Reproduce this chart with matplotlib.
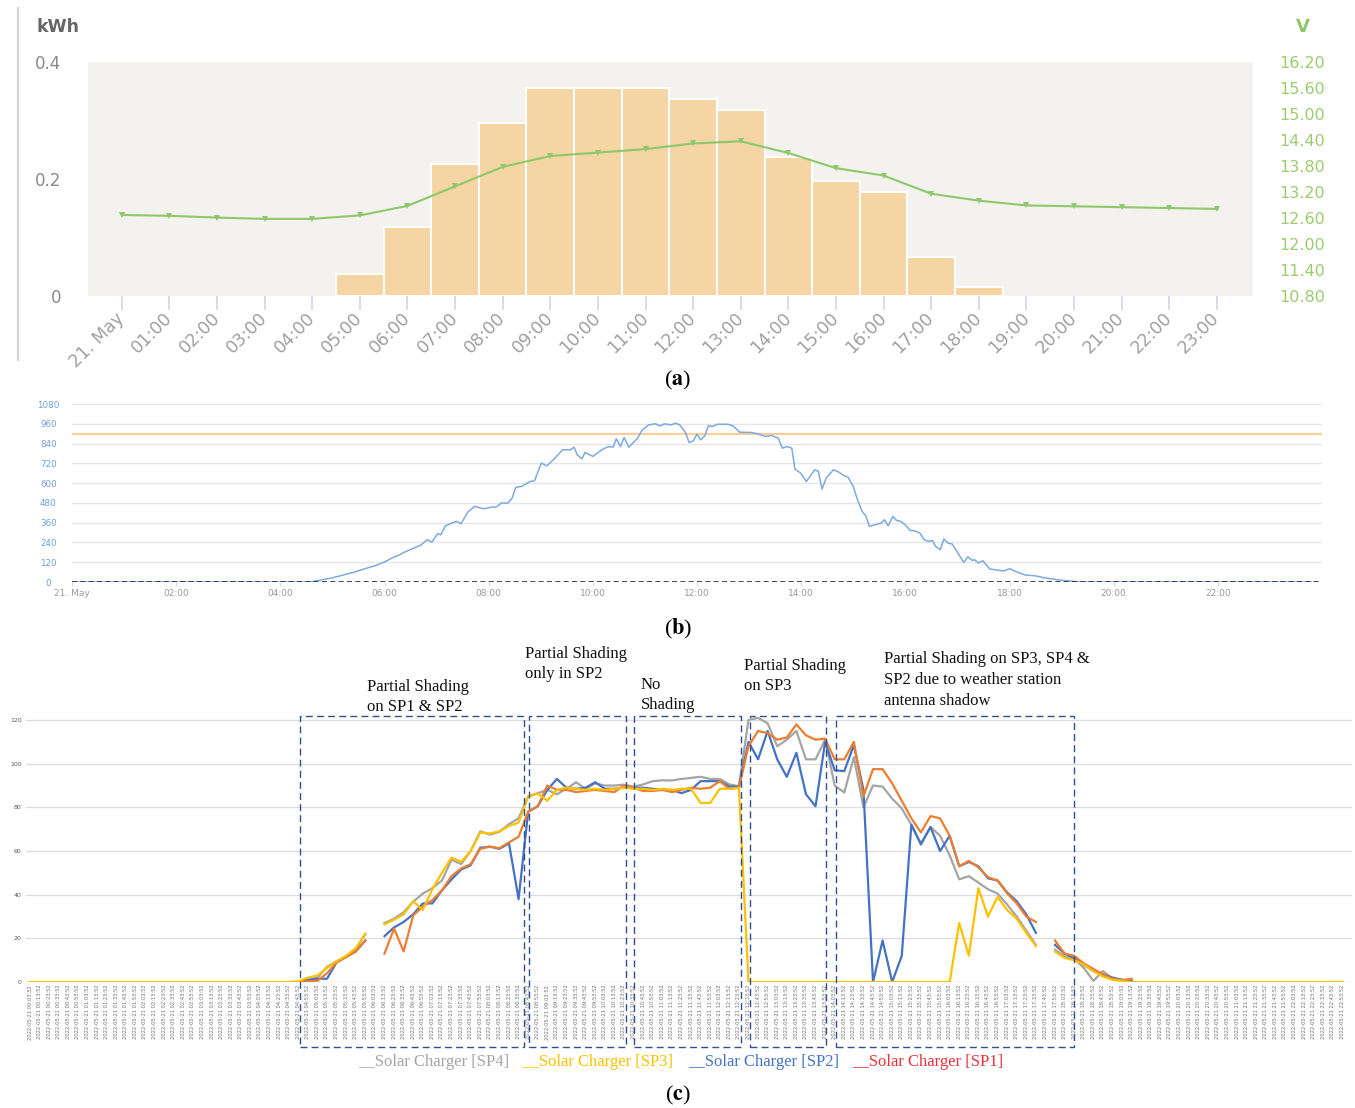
import numpy as np
import matplotlib
matplotlib.use("Agg")
import matplotlib.pyplot as plt
from matplotlib.lines import Line2D
from matplotlib.patches import Rectangle

plt.rcParams["mathtext.fontset"] = "stix"

W, H = 1355, 1108
nan = np.nan

# ---------------- (a) hourly energy + battery voltage ----------------
hour_labels = ["21. May", "01:00", "02:00", "03:00", "04:00", "05:00", "06:00",
               "07:00", "08:00", "09:00", "10:00", "11:00", "12:00", "13:00",
               "14:00", "15:00", "16:00", "17:00", "18:00", "19:00", "20:00",
               "21:00", "22:00", "23:00"]
energy_kwh = [0, 0, 0, 0, 0, 0.038, 0.118, 0.226, 0.296, 0.356, 0.356, 0.356,
              0.337, 0.318, 0.238, 0.197, 0.178, 0.067, 0.015, 0, 0, 0, 0, 0]
battery_v = [12.67, 12.65, 12.61, 12.58, 12.58, 12.66, 12.88, 13.33, 13.78,
             14.03, 14.11, 14.19, 14.32, 14.37, 14.10, 13.75, 13.58, 13.16,
             13.00, 12.89, 12.87, 12.85, 12.83, 12.81]
kwh_ticks = [0, 0.2, 0.4]
kwh_tick_labels = ["0", "0.2", "0.4"]
volt_ticks = [10.8, 11.4, 12.0, 12.6, 13.2, 13.8, 14.4, 15.0, 15.6, 16.2]

# ---------------- (b) irradiance ----------------
irr_hours = [0.0, 4.55, 4.64, 4.98, 5.41, 5.67, 5.84, 6.01, 6.14, 6.27, 6.39,
             6.52, 6.70, 6.82, 6.91, 7.02, 7.08, 7.17, 7.38, 7.47, 7.60, 7.73,
             7.90, 8.07, 8.15, 8.24, 8.37, 8.45, 8.52, 8.63, 8.80, 8.88, 9.01,
             9.12, 9.27, 9.42, 9.57, 9.64, 9.70, 9.79, 9.85, 10.0, 10.17, 10.30,
             10.39, 10.45, 10.53, 10.60, 10.69, 10.86, 10.94, 11.07, 11.2, 11.29,
             11.37, 11.5, 11.59, 11.67, 11.78, 11.85, 11.93, 12.0, 12.07, 12.15,
             12.22, 12.29, 12.39, 12.6, 12.69, 12.82, 13.04, 13.17, 13.32, 13.43,
             13.56, 13.64, 13.73, 13.82, 13.88, 13.99, 14.1, 14.19, 14.26, 14.33,
             14.4, 14.48, 14.62, 14.72, 14.83, 14.9, 15.0, 15.08, 15.17, 15.24,
             15.31, 15.41, 15.54, 15.6, 15.67, 15.76, 15.83, 15.91, 16.0, 16.09,
             16.17, 16.28, 16.36, 16.45, 16.52, 16.58, 16.67, 16.74, 16.82, 16.9,
             17.01, 17.12, 17.2, 17.29, 17.33, 17.4, 17.49, 17.62, 17.79, 17.89,
             18.0, 18.14, 18.31, 18.48, 18.7, 18.96, 19.22, 19.39, 23.8]
irr_values = [0, 0, 4, 24, 59, 85, 101, 123, 145, 162, 182,
              200, 224, 257, 242, 293, 287, 341, 368, 354, 424, 459,
              444, 455, 455, 479, 479, 509, 574, 580, 610, 614, 721,
              705, 751, 802, 802, 818, 772, 747, 786, 762, 802, 822,
              818, 869, 822, 877, 818, 873, 919, 953, 960, 947,
              960, 953, 964, 953, 907, 846, 856, 897, 862, 887,
              949, 943, 957, 957, 947, 909, 907, 899, 883, 889,
              873, 812, 822, 812, 685, 661, 610, 650, 681, 671,
              564, 630, 681, 667, 644, 636, 580, 499, 428, 402,
              337, 347, 358, 378, 341, 398, 374, 368, 347, 313,
              311, 297, 257, 246, 252, 216, 196, 261, 236, 230,
              176, 119, 152, 131, 135, 115, 129, 79, 71, 67,
              81, 61, 42, 38, 24, 12, 4, 0, 0]
irr_limit = 900
irr_ticks = [0, 120, 240, 360, 480, 600, 720, 840, 960, 1080]
irr_xticks = [0, 2, 4, 6, 8, 10, 12, 14, 16, 18, 20, 22]
irr_xlabels = ["21. May", "02:00", "04:00", "06:00", "08:00", "10:00", "12:00",
               "14:00", "16:00", "18:00", "20:00", "22:00"]

# ---------------- (c) solar chargers, 10-min samples ----------------
sp3 = [0, 0, 0, 0, 0, 0, 0, 0, 0, 0, 0, 0, 0, 0,
       0, 0, 0, 0, 0, 0, 0, 0, 0, 0, 0, 0, 0, 0,
       0.3, 2, 3, 6.5, 9.5, 12, 15.5, 22, nan, 26.5, 28.5, 31, 37, 33,
       42.5, 50, 57, 55, 60, 68.5, 68, 69, 71.5, 73, 85, 86.3, 83, 88,
       89, 88.5, 88, 88.5, 88, 88.5, 89, 88.5, 88.5, 88, 88.5, 88, 88.5, 88.5,
       82, 82, 88.5, 88.5, 89, 0, 0, 0, 0, 0, 0, 0, 0, 0,
       0, 0, 0, 0, 0, 0, 0, 0, 0, 0, 0, 0, 0, 27,
       12, 43, 30, 39, 33, 29, 22.5, 16.5, nan, 14, 11, 10, 8, 5,
       2.5, 1, 0.5, 0, 0, 0, 0, 0, 0, 0, 0, 0, 0, 0,
       0, 0, 0, 0, 0, 0, 0, 0, 0, 0, 0, 0]
sp1 = [nan, nan, nan, nan, nan, nan, nan, nan, nan, nan, nan, nan, nan, nan,
       nan, nan, nan, nan, nan, nan, nan, nan, nan, nan, nan, nan, nan, nan,
       0, 0.3, 0.5, 4, 9, 11.5, 14, 19, nan, 13, 24.5, 14, 30.5, 34.5,
       37.5, 42, 48.5, 52, 54, 61, 62, 61.3, 64, 66.5, 78, 80.5, 90, 88,
       88, 87, 87.5, 88, 87.5, 87, 90, 89, 87.5, 87.5, 88, 87, 88, 89,
       88.5, 89, 92, 88.5, 89, 108, 115, 114, 111, 112, 118, 113, 111, 111.5,
       102, 102, 110, 85, 97.5, 97.5, 91, 83, 75, 68.5, 76, 75, 67, 53,
       55.5, 52.5, 48, 46.5, 40.6, 36, 30, 27.5, nan, 19, 13, 12, 8.5, 6,
       3.5, 1.5, 0.8, 1.5, nan, nan, nan, nan, nan, nan, nan, nan, nan, nan,
       nan, nan, nan, nan, nan, nan, nan, nan, nan, nan, nan, nan]
sp2 = [nan, nan, nan, nan, nan, nan, nan, nan, nan, nan, nan, nan, nan, nan,
       nan, nan, nan, nan, nan, nan, nan, nan, nan, nan, nan, nan, nan, nan,
       0, 0.8, 1.5, 1.5, 9, 11.5, 14, 19, nan, 21, 25, 27.5, 31, 36,
       36, 42, 47, 51.5, 53.5, 61.5, 62, 61, 63.5, 38, 78, 80.5, 88, 93,
       89, 88.5, 89, 91.5, 88.5, 88.5, 89, 89, 89, 88.5, 88, 88, 86.5, 88,
       92, 92, 92, 89.5, 89.5, 110, 102, 115, 102, 94, 105, 86, 80.5, 110,
       97, 96.6, 108.5, 88, 0, 19, 0, 12, 72, 63, 71, 60, 67, 53,
       55, 53, 47.5, 46.5, 41, 37, 31, 22.5, nan, 17, 13, 11, 8, 5,
       3.5, 2, 1, 0.5, nan, nan, nan, nan, nan, nan, nan, nan, nan, nan,
       nan, nan, nan, nan, nan, nan, nan, nan, nan, nan, nan, nan]
sp4 = [nan, nan, nan, nan, nan, nan, nan, nan, nan, nan, nan, nan, nan, nan,
       nan, nan, nan, nan, nan, nan, nan, nan, nan, nan, nan, nan, nan, nan,
       0, 1, 2, 6.9, 9.5, 11.5, 15, 22, nan, 27, 29, 32, 36.8, 40.5,
       43, 46.5, 56, 54, 60, 69, 67.5, 68.8, 72.3, 75, 85, 86.5, 88, 86,
       88.5, 91.5, 88.5, 91, 90, 90, 90.4, 89.5, 90.5, 92, 92.4, 92.3, 93, 93.5,
       94, 93, 93, 90.5, 89.7, 120, 121, 118.5, 108, 111, 115, 102, 102, 111,
       90, 86.8, 103, 80, 90, 89.5, 84, 79.5, 72, 63.5, 71, 67, 58, 47,
       48.5, 45.5, 42.5, 40.5, 35.5, 30, 23.5, 17, nan, 14.8, 11.8, 10.5, 6.5, 0.5,
       5, 1.5, 1, 0.5, nan, nan, nan, nan, nan, nan, nan, nan, nan, nan,
       nan, nan, nan, nan, nan, nan, nan, nan, nan, nan, nan, nan]
sample_times = [f"2022-05-21 {(3 + 10 * k) // 60:02d}:{(3 + 10 * k) % 60:02d}:52"
                for k in range(len(sp3))]
power_ticks = [0, 20, 40, 60, 80, 100, 120]

# shading windows (sample index units) and their notes
shading_windows = [(28.2, 51.6), (52.1, 62.2), (63.05, 74.2), (75.2, 83.1), (84.1, 109.0)]
shading_notes = ["Partial Shading\non SP1 & SP2", "Partial Shading\nonly in SP2",
                 "No\nShading", "Partial Shading\non SP3",
                 "Partial Shading on SP3, SP4 &\nSP2 due to weather station\nantenna shadow"]
note_pos = [(367, 697), (525, 664), (641, 695), (744, 676), (884, 680)]

legend_names = ["__Solar Charger [SP4]", "__Solar Charger [SP3]",
                "__Solar Charger [SP2]", "__Solar Charger [SP1]"]
legend_x = [358, 522, 688, 852]
legend_colors = ["#a5a5a5", "#ffc000", "#4472c4", "#e8333a"]


def px_axes(fig, x0, y0, x1, y1):
    return fig.add_axes([x0 / W, 1 - y1 / H, (x1 - x0) / W, (y1 - y0) / H])


def px_text(fig, x, y, s, **kw):
    return fig.text(x / W, 1 - y / H, s, **kw)


fig = plt.figure(figsize=(W / 100, H / 100), dpi=100)
serif = ["Liberation Serif", "DejaVu Serif"]

# ===== panel (a) =====
ax_a = px_axes(fig, 88, 62, 1253, 296)
ax_a.set_facecolor("#f3f2ee")
hours = np.arange(len(hour_labels))
energy = np.array(energy_kwh)
has_energy = energy > 0
ax_a.bar(hours[has_energy], energy[has_energy], width=1.0, color="#f5d5a3",
         edgecolor="white", linewidth=1.5, zorder=2)
ax_a.set_xlim(-0.71, 23.76)
ax_a.set_ylim(0, 0.4)
ax_a.set_yticks(kwh_ticks)
ax_a.set_yticklabels(kwh_tick_labels)
ax_a.set_xticks(hours)
ax_a.set_xticklabels(hour_labels, rotation=45, ha="right", va="center",
                     rotation_mode="anchor")
ax_a.tick_params(axis="y", length=0, pad=19, labelsize=12, labelcolor="#8a8a8a")
ax_a.tick_params(axis="x", length=10, width=1.2, color="#ccd6eb", pad=4,
                 labelsize=12.5, labelcolor="#a0a0a0")
for s in ax_a.spines.values():
    s.set_visible(False)

ax_v = ax_a.twinx()
ax_v.plot(hours, battery_v, color="#8dc86a", lw=1.5, marker="v", ms=5,
          markeredgewidth=0, zorder=3)
ax_v.set_ylim(10.8, 16.2)
ax_v.set_yticks(volt_ticks)
ax_v.set_yticklabels([f"{v:.2f}" for v in volt_ticks])
ax_v.tick_params(axis="y", length=0, pad=19, labelsize=11.5, labelcolor="#9ccc70")
for s in ax_v.spines.values():
    s.set_visible(False)

px_text(fig, 37, 27, "kWh", ha="left", va="center", fontsize=12.5,
        fontweight="bold", color="#666666")
px_text(fig, 1303, 27, "V", ha="center", va="center", fontsize=13,
        fontweight="bold", color="#8dc86a")
fig.add_artist(Line2D([18 / W, 18 / W], [1 - 8 / H, 1 - 360 / H],
                      color="#d4d4d4", lw=1.5))
px_text(fig, 678, 380, r"($\mathbf{a}$)", ha="center", va="center",
        fontsize=16, family=serif)

# ===== panel (b) =====
ax_b = px_axes(fig, 72, 404, 1322, 582)
ax_b.plot(irr_hours, irr_values, color="#7eaade", lw=1.1, zorder=3)
ax_b.axhline(irr_limit, color="#f8cf98", lw=1.6, zorder=2)
ax_b.axhline(0, color="#1f2a44", lw=1.2, ls=(0, (3, 2)), zorder=4)
ax_b.set_xlim(0, 24)
ax_b.set_ylim(0, 1080)
ax_b.set_yticks(irr_ticks)
ax_b.set_yticklabels([str(v) for v in irr_ticks])
for t in ax_b.get_yticklabels():
    t.set_horizontalalignment("center")
ax_b.set_xticks(irr_xticks)
ax_b.set_xticklabels(irr_xlabels)
ax_b.grid(axis="y", color="#e6e6e6", lw=1.0)
ax_b.tick_params(axis="y", length=0, pad=17, labelsize=6.3, labelcolor="#6f9fd8")
ax_b.tick_params(axis="x", length=3, color="#ccd6eb", pad=2, labelsize=6.5,
                 labelcolor="#9a9a9a")
for s in ax_b.spines.values():
    s.set_visible(False)
px_text(fig, 678, 629, r"($\mathbf{b}$)", ha="center", va="center",
        fontsize=16, family=serif)

# ===== panel (c) =====
ax_c = px_axes(fig, 26, 711.3, 1352, 982)
idx = np.arange(len(sp3))
ax_c.plot(idx, sp4, color="#a5a5a5", lw=1.6, zorder=3)
ax_c.plot(idx, sp2, color="#4472c4", lw=1.6, zorder=3)
ax_c.plot(idx, sp1, color="#ed7d31", lw=1.6, zorder=3)
ax_c.plot(idx, sp3, color="#ffc000", lw=1.6, zorder=3)
ax_c.set_xlim(-0.42, 138.0)
ax_c.set_ylim(0, 124)
ax_c.set_yticks(power_ticks)
ax_c.set_yticklabels([str(v) for v in power_ticks])
ax_c.set_xticks(idx)
ax_c.set_xticklabels(sample_times, rotation=90, ha="center", va="top")
ax_c.grid(axis="y", color="#dcdcdc", lw=0.9)
ax_c.tick_params(axis="y", length=0, pad=3, labelsize=4.5, labelcolor="#595959")
ax_c.tick_params(axis="x", length=0, pad=2, labelsize=3.7, labelcolor="#707070")
for s in ax_c.spines.values():
    s.set_visible(False)

for (x0, x1) in shading_windows:
    ax_c.add_patch(Rectangle((x0, -29.8), x1 - x0, 151.6, fill=False,
                             edgecolor="#2f4f8f", lw=1.0, ls=(0, (5, 3)),
                             clip_on=False, zorder=5))
for note, (nx, ny) in zip(shading_notes, note_pos):
    px_text(fig, nx, ny, note, ha="left", va="center", fontsize=12,
            family=serif, color="#111111", linespacing=1.4)

for name, lx, lc in zip(legend_names, legend_x, legend_colors):
    px_text(fig, lx, 1062, name, ha="left", va="center", fontsize=12,
            family=serif, color=lc)
px_text(fig, 678, 1095, r"($\mathbf{c}$)", ha="center", va="center",
        fontsize=16, family=serif)

fig.savefig("out.png", dpi=100)
